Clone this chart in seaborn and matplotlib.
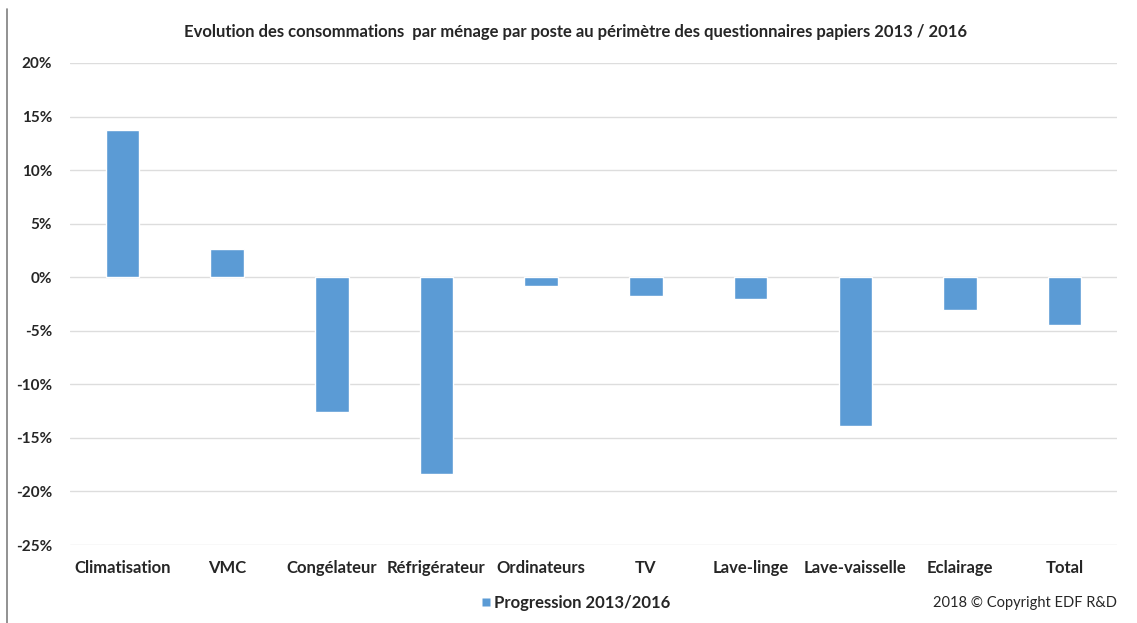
import matplotlib
matplotlib.use("Agg")
import matplotlib.pyplot as plt
from matplotlib.lines import Line2D
from matplotlib.ticker import FuncFormatter, MultipleLocator
import seaborn as sns
import pandas as pd

# Consumption change per household and per end use, 2013 -> 2016 (%)
categories = ["Climatisation", "VMC", "Congélateur", "Réfrigérateur", "Ordinateurs",
              "TV", "Lave-linge", "Lave-vaisselle", "Eclairage", "Total"]
progression = [13.7, 2.6, -12.6, -18.4, -0.8, -1.8, -2.0, -13.85, -3.1, -4.5]
series_label = "Progression 2013/2016"
title = "Evolution des consommations  par ménage par poste au périmètre des questionnaires papiers 2013 / 2016"
credit = "2018 © Copyright EDF R&D"

df = pd.DataFrame({"poste": categories, "progression": progression})

sns.set_theme(style="white")
plt.rcParams["font.family"] = ["Lato", "DejaVu Sans"]

bar_color = "#5B9BD5"
text_color = "#262626"

fig = plt.figure(figsize=(11.37, 6.23), dpi=100)
ax = fig.add_axes([0.0616, 0.1252, 0.9208, 0.7737])

sns.barplot(data=df, x="poste", y="progression", color=bar_color,
            width=0.32, saturation=1, ax=ax, zorder=3)

ax.set_xlim(-0.5, len(categories) - 0.5)
ax.set_ylim(-25, 20)
ax.yaxis.set_major_locator(MultipleLocator(5))
ax.yaxis.set_major_formatter(FuncFormatter(lambda v, _: f"{v:.0f}%"))
ax.grid(axis="y", color="#DDDDDD", linewidth=1.0, zorder=0)
ax.grid(axis="x", visible=False)
for side in ax.spines.values():
    side.set_visible(False)
ax.set_xlabel("")
ax.set_ylabel("")
ax.tick_params(axis="both", length=0, colors=text_color)
ax.tick_params(axis="x", labelsize=12, pad=11)
ax.tick_params(axis="y", labelsize=11, pad=13)
for lab in ax.get_xticklabels() + ax.get_yticklabels():
    lab.set_fontweight("bold")

fig.text(0.506, 0.949, title, ha="center", va="center", fontsize=12,
         fontweight="bold", color=text_color)

# small square legend key
handle = Line2D([], [], marker="s", linestyle="none", markersize=6,
                markerfacecolor=bar_color, markeredgecolor="none")
fig.legend([handle], [series_label], loc="center", bbox_to_anchor=(0.506, 0.032),
           frameon=False, prop={"size": 12, "weight": "bold"},
           handlelength=0.6, handletextpad=0.2, labelcolor=text_color)

fig.text(0.982, 0.032, credit, ha="right", va="center", fontsize=10.5,
         color=text_color)

# frame edge on the left
fig.add_artist(Line2D([0.0062, 0.0062], [0.0, 0.985], transform=fig.transFigure,
                      color="#7F7F7F", linewidth=1.2))

fig.savefig("out.png", dpi=100)
